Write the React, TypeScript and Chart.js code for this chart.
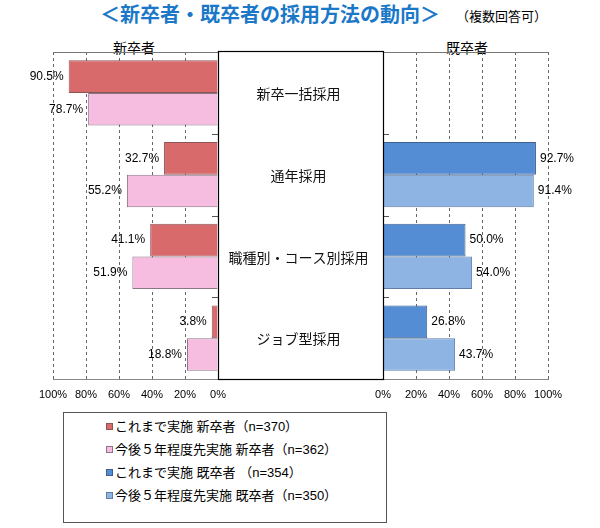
import React, { useEffect, useRef } from "react";
import { Chart, registerables } from "chart.js";

Chart.register(...registerables);

const FONT = '"Liberation Sans", "Noto Sans CJK JP", sans-serif';
const JP = '"Noto Sans CJK JP", sans-serif';

const categories = ["新卒一括採用", "通年採用", "職種別・コース別採用", "ジョブ型採用"];
const shinsotsuPast = [90.5, 32.7, 41.1, 3.8];
const shinsotsuFuture = [78.7, 55.2, 51.9, 18.8];
const kisotsuPast = [null, 92.7, 50.0, 26.8];
const kisotsuFuture = [null, 91.4, 54.0, 43.7];
const seriesLabels = [
  "これまで実施 新卒者（n=370）",
  "今後５年程度先実施 新卒者（n=362）",
  "これまで実施 既卒者 （n=354）",
  "今後５年程度先実施 既卒者（n=350）",
];
const seriesFill = ["#d96a6b", "#f7bde1", "#558dd4", "#8db4e2"];
const seriesBorder = ["#8c5555", "#8a7585", "#3f5f8f", "#5f7ea8"];
const titleText = "＜新卒者・既卒者の採用方法の動向＞";
const noteText = "（複数回答可）";
const leftHeader = "新卒者";
const rightHeader = "既卒者";
const tickStep = 20;

function makePlugin(side: "left" | "right") {
  return {
    id: "decor-" + side,
    beforeDatasetsDraw(chart: any) {
      const { ctx, chartArea } = chart;
      const y = chart.scales.y;
      ctx.save();
      ctx.strokeStyle = "#777";
      ctx.lineWidth = 1;
      ctx.beginPath();
      const top = Math.round(chartArea.top) + 0.5;
      ctx.moveTo(chartArea.left, top);
      ctx.lineTo(chartArea.right, top);
      ctx.stroke();
      ctx.strokeStyle = "#555";
      ctx.beginPath();
      for (let i = 0; i < categories.length - 1; i++) {
        const py = Math.round((y.getPixelForValue(i) + y.getPixelForValue(i + 1)) / 2) + 0.5;
        if (side === "left") {
          ctx.moveTo(chartArea.right - 6, py);
          ctx.lineTo(chartArea.right, py);
        } else {
          ctx.moveTo(chartArea.left, py);
          ctx.lineTo(chartArea.left + 6, py);
        }
      }
      ctx.stroke();
      ctx.restore();
    },
    afterDatasetsDraw(chart: any) {
      const { ctx } = chart;
      ctx.save();
      ctx.font = "12px " + FONT;
      ctx.fillStyle = "#000";
      ctx.textBaseline = "middle";
      chart.data.datasets.forEach((ds: any, di: number) => {
        const meta = chart.getDatasetMeta(di);
        meta.data.forEach((el: any, i: number) => {
          const v = ds.data[i];
          if (v === null || v === undefined) return;
          const txt = v.toFixed(1) + "%";
          if (side === "left") {
            ctx.textAlign = "right";
            ctx.fillText(txt, el.x - 5, el.y);
          } else {
            ctx.textAlign = "left";
            ctx.fillText(txt, el.x + 4, el.y);
          }
        });
      });
      ctx.restore();
    },
    afterDraw(chart: any) {
      if (side !== "right") return;
      const { ctx, chartArea } = chart;
      const y = chart.scales.y;
      ctx.save();
      // category names in the middle box, placed on the category scale
      ctx.font = "14px " + JP;
      ctx.fillStyle = "#111";
      ctx.textAlign = "center";
      ctx.textBaseline = "middle";
      const cx = (y.left + y.right) / 2 - 2;
      y.ticks.forEach((_t: any, i: number) => {
        ctx.fillText(String(chart.data.labels[i]), cx, y.getPixelForTick(i) + 1);
      });
      ctx.strokeStyle = "#000";
      ctx.lineWidth = 1.2;
      ctx.strokeRect(
        Math.round(y.left) + 0.5,
        Math.round(chartArea.top) - 0.5,
        Math.round(y.right - y.left),
        Math.round(chartArea.bottom - chartArea.top) + 1
      );
      ctx.restore();
    },
  };
}

function xScale(reverse: boolean) {
  return {
    type: "linear",
    min: 0,
    max: 100,
    reverse,
    afterFit: (s: any) => {
      s.height = 30;
    },
    ticks: {
      stepSize: tickStep,
      autoSkip: false,
      maxRotation: 0,
      padding: 9,
      color: "#000",
      font: { size: 11, family: FONT },
      callback: (v: any) => v + "%",
    },
    grid: { color: "#666", lineWidth: 1, drawTicks: false },
    border: { display: true, color: "#888", dash: [3, 3] },
  };
}

export default function App() {
  const leftRef = useRef<HTMLCanvasElement>(null);
  const rightRef = useRef<HTMLCanvasElement>(null);

  useEffect(() => {
    Chart.defaults.font.family = FONT;
    Chart.defaults.color = "#000";
    const boxWidth = 165;

    const left = new Chart(leftRef.current!, {
      type: "bar",
      data: {
        labels: categories,
        datasets: [
          {
            label: seriesLabels[0],
            data: shinsotsuPast,
            backgroundColor: seriesFill[0],
            borderColor: seriesBorder[0],
            borderWidth: 1,
          },
          {
            label: seriesLabels[1],
            data: shinsotsuFuture,
            backgroundColor: seriesFill[1],
            borderColor: seriesBorder[1],
            borderWidth: 1,
          },
        ],
      },
      options: {
        indexAxis: "y",
        responsive: false,
        animation: false,
        layout: { padding: { left: 53, right: 26, top: 12, bottom: 0 } },
        datasets: { bar: { categoryPercentage: 0.8, barPercentage: 1.0 } },
        scales: {
          x: xScale(true) as any,
          y: { type: "category", display: false, offset: true },
        },
        plugins: { legend: { display: false }, tooltip: { enabled: false } },
      } as any,
      plugins: [makePlugin("left")],
    });

    const right = new Chart(rightRef.current!, {
      type: "bar",
      data: {
        labels: categories,
        datasets: [
          {
            label: seriesLabels[2],
            data: kisotsuPast,
            backgroundColor: seriesFill[2],
            borderColor: seriesBorder[2],
            borderWidth: 1,
          },
          {
            label: seriesLabels[3],
            data: kisotsuFuture,
            backgroundColor: seriesFill[3],
            borderColor: seriesBorder[3],
            borderWidth: 1,
          },
        ],
      },
      options: {
        indexAxis: "y",
        responsive: false,
        animation: false,
        layout: { padding: { left: 4, right: 26, top: 12, bottom: 0 } },
        datasets: { bar: { categoryPercentage: 0.8, barPercentage: 1.0 } },
        scales: {
          x: xScale(false) as any,
          y: {
            type: "category",
            position: "left",
            offset: true,
            afterFit: (s: any) => {
              s.width = boxWidth;
            },
            ticks: { display: false },
            grid: { display: false, drawTicks: false },
            border: { display: false },
          },
        },
        plugins: { legend: { display: false }, tooltip: { enabled: false } },
      } as any,
      plugins: [makePlugin("right")],
    });

    return () => {
      left.destroy();
      right.destroy();
    };
  }, []);

  return (
    <div
      style={{
        position: "absolute",
        left: 0,
        top: 0,
        width: 600,
        height: 528,
        background: "#fff",
        fontFamily: FONT,
        color: "#000",
      }}
    >
      <div
        style={{
          position: "absolute",
          left: 80,
          top: 1,
          width: 380,
          height: 26,
          lineHeight: "26px",
          textAlign: "center",
          fontFamily: JP,
          fontWeight: 700,
          fontSize: 20,
          color: "#1b78c8",
          whiteSpace: "nowrap",
        }}
      >
        {titleText}
      </div>
      <div
        style={{
          position: "absolute",
          left: 456,
          top: 6,
          height: 20,
          lineHeight: "20px",
          fontFamily: JP,
          fontSize: 13,
          whiteSpace: "nowrap",
        }}
      >
        {noteText}
      </div>
      <div
        style={{
          position: "absolute",
          left: 84,
          top: 37,
          width: 100,
          height: 20,
          lineHeight: "20px",
          textAlign: "center",
          fontFamily: JP,
          fontSize: 14,
        }}
      >
        {leftHeader}
      </div>
      <div
        style={{
          position: "absolute",
          left: 417,
          top: 37,
          width: 100,
          height: 20,
          lineHeight: "20px",
          textAlign: "center",
          fontFamily: JP,
          fontSize: 14,
        }}
      >
        {rightHeader}
      </div>
      <canvas
        ref={leftRef}
        width={244}
        height={369}
        style={{ position: "absolute", left: 0, top: 40, width: 244, height: 369, display: "block" }}
      />
      <canvas
        ref={rightRef}
        width={360}
        height={369}
        style={{ position: "absolute", left: 214, top: 40, width: 360, height: 369, display: "block" }}
      />
      <div
        style={{
          position: "absolute",
          left: 63,
          top: 412,
          width: 324,
          height: 111,
          boxSizing: "border-box",
          border: "1px solid #555",
          paddingTop: 2,
          paddingLeft: 42,
          fontFamily: FONT,
          fontSize: 13,
        }}
      >
        {seriesLabels.map((lab, i) => (
          <div
            key={i}
            style={{ height: 23, lineHeight: "23px", display: "flex", alignItems: "center", whiteSpace: "nowrap" }}
          >
            <span
              style={{
                display: "inline-block",
                width: 7,
                height: 7,
                boxSizing: "border-box",
                background: seriesFill[i],
                border: "1px solid " + seriesBorder[i],
                marginRight: 2,
              }}
            />
            <span>{lab}</span>
          </div>
        ))}
      </div>
    </div>
  );
}
